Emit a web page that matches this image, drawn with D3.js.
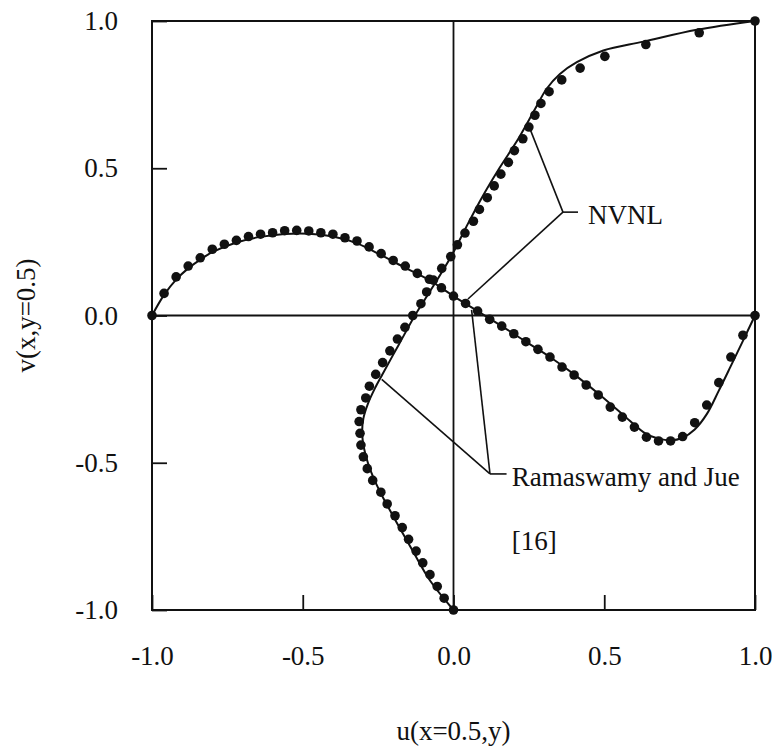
<!DOCTYPE html>
<html>
<head>
<meta charset="utf-8">
<script src="https://d3js.org/d3.v7.min.js"></script>
<style>
  body { margin: 0; background: #fff; }
  svg text { font-family: "Liberation Serif", "Times New Roman", serif; fill: #111; }
</style>
</head>
<body>
<div class="chart"></div>
<script>
var svgWidth = 772;
var svgHeight = 749;

var margin = { top: 21, right: 17, bottom: 139, left: 152 };

var width = svgWidth - margin.left - margin.right;
var height = svgHeight - margin.top - margin.bottom;

// axis ticks
var tickValues = [-1.0, -0.5, 0.0, 0.5, 1.0];
var tickLabels = ["-1.0", "-0.5", "0.0", "0.5", "1.0"];

// Ramaswamy and Jue [16] : u(x=0.5,y) dots, on y grid
var refUY = [-1.00, -0.96, -0.92, -0.88, -0.84, -0.80, -0.76, -0.72, -0.68, -0.64,
             -0.60, -0.56, -0.52, -0.48, -0.44, -0.40, -0.36, -0.32, -0.28, -0.24,
             -0.20, -0.16, -0.12, -0.08, -0.04, 0.00, 0.04, 0.08, 0.12, 0.16,
             0.20, 0.24, 0.28, 0.32, 0.36, 0.40, 0.44, 0.48, 0.52, 0.56,
             0.60, 0.64, 0.68, 0.72, 0.76, 0.80, 0.84, 0.88, 0.92, 0.96, 1.00];
var refU = [0.000, -0.031, -0.054, -0.078, -0.102, -0.124, -0.149, -0.170, -0.194, -0.220,
            -0.241, -0.268, -0.286, -0.299, -0.307, -0.310, -0.313, -0.307, -0.291, -0.279,
            -0.258, -0.235, -0.211, -0.186, -0.161, -0.135, -0.108, -0.089, -0.067, -0.039,
            -0.009, 0.013, 0.038, 0.066, 0.086, 0.112, 0.135, 0.157, 0.182, 0.202,
            0.230, 0.250, 0.270, 0.290, 0.317, 0.359, 0.420, 0.502, 0.638, 0.815, 1.000];

// Ramaswamy and Jue [16] : v(x,y=0.5) dots, on x grid
var refVX = [-1.00, -0.96, -0.92, -0.88, -0.84, -0.80, -0.76, -0.72, -0.68, -0.64,
             -0.60, -0.56, -0.52, -0.48, -0.44, -0.40, -0.36, -0.32, -0.28, -0.24,
             -0.20, -0.16, -0.12, -0.08, -0.04, 0.00, 0.04, 0.08, 0.12, 0.16,
             0.20, 0.24, 0.28, 0.32, 0.36, 0.40, 0.44, 0.48, 0.52, 0.56,
             0.60, 0.64, 0.68, 0.72, 0.76, 0.80, 0.84, 0.88, 0.92, 0.96, 1.00];
var refV = [0.000, 0.075, 0.131, 0.168, 0.196, 0.225, 0.242, 0.255, 0.268, 0.276,
            0.281, 0.288, 0.289, 0.287, 0.281, 0.276, 0.264, 0.253, 0.233, 0.210,
            0.187, 0.168, 0.143, 0.123, 0.094, 0.066, 0.041, 0.015, -0.013, -0.036,
            -0.062, -0.089, -0.115, -0.141, -0.175, -0.202, -0.236, -0.270, -0.311, -0.345,
            -0.379, -0.413, -0.426, -0.426, -0.411, -0.364, -0.304, -0.228, -0.141, -0.067, 0.000];

// NVNL : u(x=0.5,y) line
var nvnlUY = [-1.00, -0.90, -0.80, -0.70, -0.60, -0.55, -0.50, -0.45, -0.40, -0.35,
              -0.30, -0.25, -0.20, -0.10, 0.00, 0.10, 0.20, 0.30, 0.40, 0.50,
              0.60, 0.70, 0.77, 0.82, 0.86, 0.90, 0.93, 0.97, 1.00];
var nvnlU = [0.000, -0.078, -0.135, -0.190, -0.243, -0.266, -0.284, -0.297, -0.303, -0.299,
             -0.284, -0.262, -0.236, -0.182, -0.128, -0.067, -0.008, 0.042, 0.094, 0.152,
             0.215, 0.270, 0.309, 0.353, 0.409, 0.497, 0.630, 0.807, 1.000];

// NVNL : v(x,y=0.5) line
var nvnlVX = [-1.00, -0.96, -0.92, -0.88, -0.84, -0.80, -0.72, -0.64, -0.56, -0.48,
              -0.40, -0.32, -0.24, -0.16, -0.08, 0.00, 0.08, 0.16, 0.24, 0.32,
              0.40, 0.48, 0.56, 0.64, 0.68, 0.72, 0.76, 0.80, 0.84, 0.88,
              0.92, 0.96, 1.00];
var nvnlV = [0.000, 0.070, 0.122, 0.160, 0.190, 0.215, 0.248, 0.267, 0.277, 0.278,
             0.268, 0.245, 0.205, 0.162, 0.120, 0.066, 0.015, -0.036, -0.089, -0.141,
             -0.200, -0.265, -0.335, -0.403, -0.418, -0.424, -0.415, -0.387, -0.335, -0.255,
             -0.171, -0.086, 0.000];

var svg = d3.select(".chart")
    .append("svg")
    .attr("width", svgWidth)
    .attr("height", svgHeight);

var chartGroup = svg.append("g")
    .attr("transform", `translate(${margin.left}, ${margin.top})`);

var xScale = d3.scaleLinear().domain([-1, 1]).range([0, width]);
var yScale = d3.scaleLinear().domain([-1, 1]).range([height, 0]);

// frame and zero lines
chartGroup.append("rect")
    .attr("x", 0).attr("y", 0)
    .attr("width", width).attr("height", height)
    .attr("fill", "none")
    .attr("stroke", "#111")
    .attr("stroke-width", 2);

chartGroup.append("line")
    .attr("x1", xScale(0)).attr("x2", xScale(0))
    .attr("y1", 0).attr("y2", height)
    .attr("stroke", "#111").attr("stroke-width", 1.8);

chartGroup.append("line")
    .attr("x1", 0).attr("x2", width)
    .attr("y1", yScale(0)).attr("y2", yScale(0))
    .attr("stroke", "#111").attr("stroke-width", 1.8);

// axes
var bottomAxis = d3.axisBottom(xScale)
    .tickValues(tickValues)
    .tickFormat((d, i) => tickLabels[i])
    .tickSizeInner(-15)
    .tickSizeOuter(0)
    .tickPadding(36);

var leftAxis = d3.axisLeft(yScale)
    .tickValues(tickValues)
    .tickFormat((d, i) => tickLabels[i])
    .tickSizeInner(-15)
    .tickSizeOuter(0)
    .tickPadding(34);

var xAxis = chartGroup.append("g")
    .attr("transform", `translate(0,${height})`)
    .call(bottomAxis);

var yAxis = chartGroup.append("g")
    .call(leftAxis);

[xAxis, yAxis].forEach(function (ax) {
    ax.attr("font-family", null).attr("font-size", null);
    ax.select(".domain").remove();
    ax.selectAll("line").attr("stroke", "#111").attr("stroke-width", 1.8);
    ax.selectAll("text").style("font-size", "27px");
});

// axis titles
svg.append("text")
    .attr("x", margin.left + width / 2)
    .attr("y", 740)
    .attr("text-anchor", "middle")
    .style("font-size", "27px")
    .text("u(x=0.5,y)");

svg.append("text")
    .attr("transform", `translate(35, ${margin.top + height / 2}) rotate(-90)`)
    .attr("text-anchor", "middle")
    .style("font-size", "27px")
    .text("v(x,y=0.5)");

// NVNL lines
var uLine = d3.line()
    .x((d, i) => xScale(nvnlU[i]))
    .y(d => yScale(d))
    .curve(d3.curveCatmullRom.alpha(0.5));

var vLine = d3.line()
    .x(d => xScale(d))
    .y((d, i) => yScale(nvnlV[i]))
    .curve(d3.curveCatmullRom.alpha(0.5));

chartGroup.append("path")
    .attr("d", uLine(nvnlUY))
    .attr("fill", "none")
    .attr("stroke", "#111")
    .attr("stroke-width", 2);

chartGroup.append("path")
    .attr("d", vLine(nvnlVX))
    .attr("fill", "none")
    .attr("stroke", "#111")
    .attr("stroke-width", 2);

// reference dots
chartGroup.selectAll(".dotU")
    .data(refUY)
    .enter()
    .append("circle")
    .attr("class", "dotU")
    .attr("cx", (d, i) => xScale(refU[i]))
    .attr("cy", d => yScale(d))
    .attr("r", 4.8)
    .attr("fill", "#111");

chartGroup.selectAll(".dotV")
    .data(refVX)
    .enter()
    .append("circle")
    .attr("class", "dotV")
    .attr("cx", d => xScale(d))
    .attr("cy", (d, i) => yScale(refV[i]))
    .attr("r", 4.8)
    .attr("fill", "#111");

// leader lines and labels (data units)
var nvnlJoin = [0.363, 0.351];
var nvnlTips = [[0.254, 0.633], [0.048, 0.056]];
var nvnlBarEnd = 0.413;
var refJoin = [0.121, -0.538];
var refTips = [[-0.238, -0.217], [0.060, 0.019]];
var refBarEnd = 0.176;

function leader(join, tips, barEnd) {
    tips.forEach(function (t) {
        chartGroup.append("line")
            .attr("x1", xScale(join[0])).attr("y1", yScale(join[1]))
            .attr("x2", xScale(t[0])).attr("y2", yScale(t[1]))
            .attr("stroke", "#111").attr("stroke-width", 1.6);
    });
    chartGroup.append("line")
        .attr("x1", xScale(join[0])).attr("y1", yScale(join[1]))
        .attr("x2", xScale(barEnd)).attr("y2", yScale(join[1]))
        .attr("stroke", "#111").attr("stroke-width", 1.6);
}
leader(nvnlJoin, nvnlTips, nvnlBarEnd);
leader(refJoin, refTips, refBarEnd);

chartGroup.append("text")
    .attr("x", xScale(0.446))
    .attr("y", yScale(0.311))
    .style("font-size", "27px")
    .text("NVNL");

chartGroup.append("text")
    .attr("x", xScale(0.193))
    .attr("y", yScale(-0.579))
    .style("font-size", "27px")
    .text("Ramaswamy and Jue");

chartGroup.append("text")
    .attr("x", xScale(0.193))
    .attr("y", yScale(-0.796))
    .style("font-size", "27px")
    .text("[16]");
</script>
</body>
</html>
